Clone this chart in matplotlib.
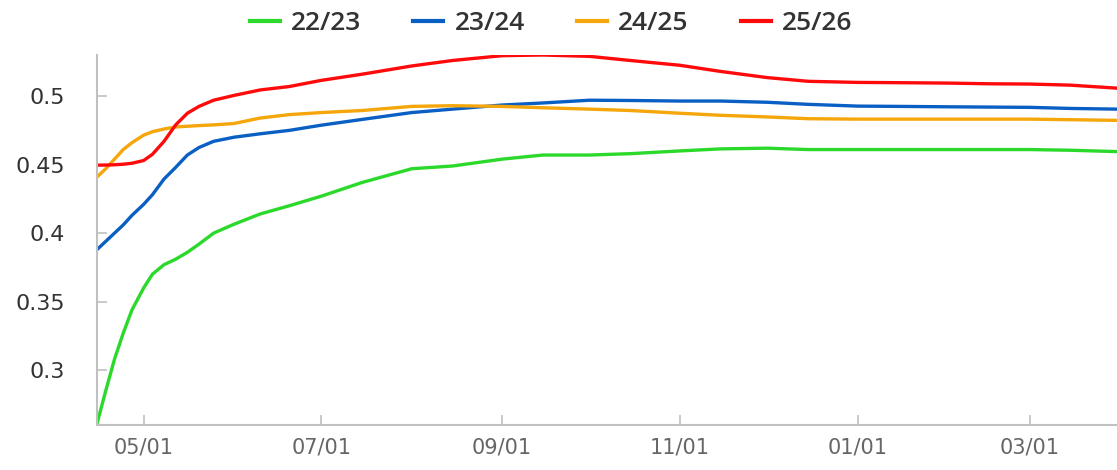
import matplotlib
matplotlib.use("Agg")
import matplotlib.pyplot as plt
import matplotlib.dates as mdates
from matplotlib.lines import Line2D
from datetime import datetime

dates_md = ["04-15", "04-18", "04-21", "04-24", "04-27", "05-01", "05-04", "05-08", "05-12",
            "05-16", "05-20", "05-25", "06-01", "06-10", "06-20",
            "07-01", "07-15", "08-01", "08-15", "09-01", "09-15", "10-01", "10-15", "11-01",
            "11-15", "12-01", "12-15", "01-01", "01-15", "02-01", "02-15", "03-01", "03-15", "03-31"]

s2223 = [0.261, 0.285, 0.308, 0.327, 0.344, 0.360, 0.370, 0.377, 0.381,
         0.386, 0.392, 0.400, 0.4065, 0.414, 0.420,
         0.427, 0.437, 0.447, 0.449, 0.454, 0.457, 0.457, 0.458, 0.460,
         0.4615, 0.462, 0.461, 0.461, 0.461, 0.461, 0.461, 0.461, 0.4605, 0.4595]
s2324 = [0.388, 0.394, 0.400, 0.406, 0.413, 0.421, 0.428, 0.4395, 0.448,
         0.457, 0.4625, 0.467, 0.470, 0.4725, 0.475,
         0.4788, 0.483, 0.488, 0.4905, 0.4935, 0.495, 0.497, 0.4968, 0.4964,
         0.4964, 0.4955, 0.494, 0.4927, 0.4925, 0.4922, 0.492, 0.4918, 0.491, 0.4905]
s2425 = [0.441, 0.447, 0.454, 0.461, 0.466, 0.4715, 0.474, 0.476, 0.4775,
         0.478, 0.4785, 0.479, 0.480, 0.484, 0.4865,
         0.488, 0.4895, 0.4925, 0.493, 0.4925, 0.4915, 0.4905, 0.4895, 0.4875,
         0.486, 0.4848, 0.4835, 0.4832, 0.4832, 0.4832, 0.4832, 0.4832, 0.4828, 0.4823]
s2526 = [0.4496, 0.4497, 0.4499, 0.4503, 0.451, 0.453, 0.4575, 0.467, 0.479,
         0.4875, 0.4925, 0.497, 0.5005, 0.5045, 0.507,
         0.5115, 0.516, 0.522, 0.526, 0.5295, 0.530, 0.529, 0.526, 0.5225,
         0.518, 0.5135, 0.5108, 0.510, 0.5098, 0.5095, 0.509, 0.5088, 0.508, 0.5058]

labels = ["22/23", "23/24", "24/25", "25/26"]
colors = ["#2bd92b", "#0a5fc4", "#f5a60a", "#ff0a0a"]
yticks = [0.3, 0.35, 0.4, 0.45, 0.5]
ytick_labels = ["0.3", "0.35", "0.4", "0.45", "0.5"]


def to_date(md):
    m, d = map(int, md.split("-"))
    return datetime(2025 if m >= 4 else 2026, m, d)


x = [to_date(md) for md in dates_md]

plt.rcParams['font.family'] = ['DejaVu Sans']

W, H = 1117, 470
fig = plt.figure(figsize=(W / 100, H / 100), dpi=100)
ax = fig.add_axes([97 / W, (H - 425) / H, (W - 97) / W, (425 - 55) / H])

for vals, c, lab in zip([s2223, s2324, s2425, s2526], colors, labels):
    ax.plot(x, vals, color=c, lw=2.4, label=lab, solid_joinstyle='round')

ax.set_xlim(datetime(2025, 4, 15), datetime(2026, 3, 31))
ax.set_ylim(0.26, 0.53)

ax.set_yticks(yticks)
ax.set_yticklabels(ytick_labels)
ax.xaxis.set_major_locator(mdates.MonthLocator(bymonth=[1, 3, 5, 7, 9, 11], bymonthday=1))
ax.xaxis.set_major_formatter(mdates.DateFormatter("%m/%d"))

for s in ["top", "right"]:
    ax.spines[s].set_visible(False)
for s in ["left", "bottom"]:
    ax.spines[s].set_color("#c0c0c0")
    ax.spines[s].set_linewidth(1.5)

ax.tick_params(axis='y', direction='in', length=7, width=1.2, color='#c0c0c0',
               labelsize=16, labelcolor='#333333', pad=23)
ax.tick_params(axis='x', direction='in', length=7, width=1.2, color='#c0c0c0',
               labelsize=15, labelcolor='#666666', pad=9)

handles = [Line2D([0], [0], color=c, lw=3) for c in colors]
leg = fig.legend(handles, labels, loc='center', bbox_to_anchor=(551 / W, 1 - 24 / H),
                 ncol=4, frameon=False, handlelength=1.14, handletextpad=0.42,
                 columnspacing=1.98,
                 prop={'family': ['Open Sans', 'DejaVu Sans'], 'size': 19, 'weight': 'semibold'})
for t in leg.get_texts():
    t.set_color('#333333')

fig.savefig("out.png", dpi=100)
